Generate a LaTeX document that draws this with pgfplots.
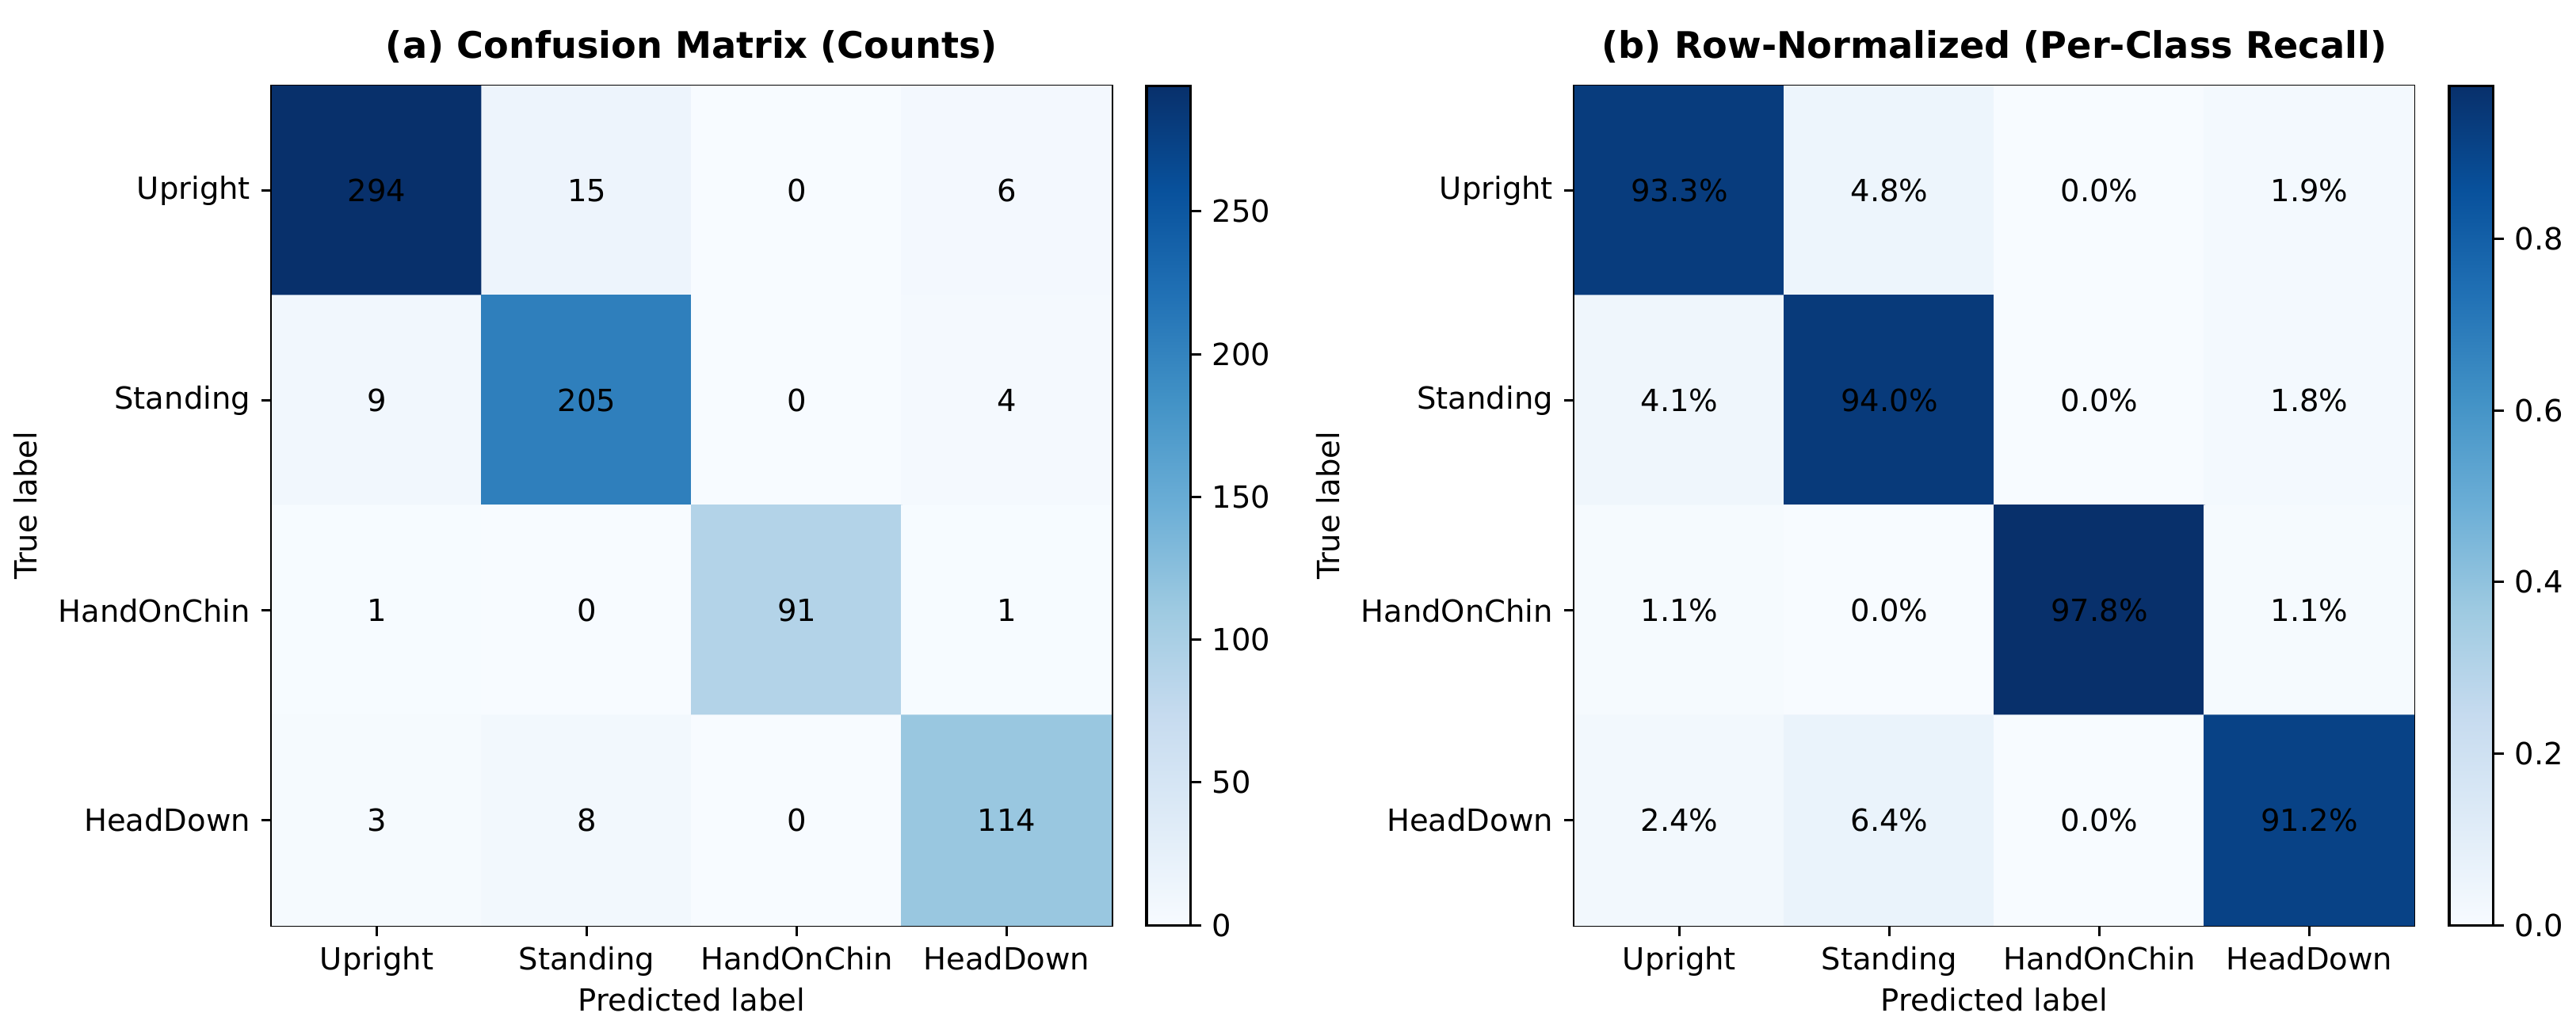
\documentclass[border=0pt]{standalone}
\usepackage{fontspec}
\setmainfont{DejaVu Sans}
\usepackage{pgfplots}
\usepackage{pgfplotstable}
\pgfplotsset{compat=1.18}

% counts, row = true label, col = predicted label
\pgfplotstableread{
x y c
0 0 294
1 0 15
2 0 0
3 0 6
0 1 9
1 1 205
2 1 0
3 1 4
0 2 1
1 2 0
2 2 91
3 2 1
0 3 3
1 3 8
2 3 0
3 3 114
}\counts

% row-normalized (recall), r = fraction, p = percent shown
\pgfplotstableread{
x y r p
0 0 0.9333 93.3
1 0 0.0476 4.8
2 0 0.0 0.0
3 0 0.0190 1.9
0 1 0.0413 4.1
1 1 0.9404 94.0
2 1 0.0 0.0
3 1 0.0183 1.8
0 2 0.0108 1.1
1 2 0.0 0.0
2 2 0.9785 97.8
3 2 0.0108 1.1
0 3 0.0240 2.4
1 3 0.0640 6.4
2 3 0.0 0.0
3 3 0.9120 91.2
}\recall

\pgfplotsset{
  colormap={mplblues}{rgb255=(247,251,255) rgb255=(222,235,247) rgb255=(198,219,239)
    rgb255=(158,202,225) rgb255=(107,174,214) rgb255=(66,146,198) rgb255=(33,113,181)
    rgb255=(8,81,156) rgb255=(8,48,107)},
  cm/.style={
    scale only axis, width=275.3pt, height=275.3pt,
    anchor=south west,
    xmin=-0.5, xmax=3.5, ymin=-0.5, ymax=3.5,
    y dir=reverse,
    xtick={0,1,2,3}, ytick={0,1,2,3},
    xticklabels={Upright,Standing,HandOnChin,HeadDown},
    yticklabels={Upright,Standing,HandOnChin,HeadDown},
    tick align=outside, xtick pos=left, ytick pos=left,
    major tick length=3.5pt,
    every tick/.style={black, line width=0.8pt},
    axis line style={line width=0.8pt},
    xlabel={Predicted label}, ylabel={True label},
    xlabel style={yshift=3pt},
    title style={font=\fontsize{12}{14}\selectfont\bfseries, yshift=-2pt},
    colormap name=mplblues,
    colorbar,
    /pgf/number format/assume math mode=true,
  },
  % the colorbar already sits 0.3cm right of the axis; add the rest
  cb/.style={
    colorbar style={
      at={(parent axis.north east)}, anchor=north west, xshift=2.9pt,
      scale only axis, width=14.5pt, height=275.3pt,
      tick align=outside, ytick pos=right, yticklabel pos=right,
      major tick length=3.5pt,
      every tick/.style={black, line width=0.8pt},
      axis line style={line width=0.8pt},
      /pgf/number format/assume math mode=true,
      #1
    },
  },
}

\begin{document}
\begin{tikzpicture}
\path[use as bounding box] (0,0) rectangle (844.4pt,338.2pt);

\begin{axis}[cm, at={(89.1pt,34.8pt)},
  title={(a) Confusion Matrix (Counts)},
  point meta min=0, point meta max=294,
  cb={ytick={0,50,100,150,200,250}}]
  \addplot[matrix plot*, mesh/cols=4, point meta=explicit] table[x=x, y=y, meta=c] {\counts};
  \addplot[only marks, mark=none, point meta=explicit,
    nodes near coords={\pgfmathprintnumber[int detect]{\pgfplotspointmeta}},
    nodes near coords align=center,
    every node near coord/.append style={font=\normalsize, text=black}]
    table[x=x, y=y, meta=c] {\counts};
\end{axis}

\begin{axis}[cm, at={(516.1pt,34.8pt)},
  title={(b) Row-Normalized (Per-Class Recall)},
  point meta min=0, point meta max=0.9785,
  cb={ytick={0,0.2,0.4,0.6,0.8},
      yticklabel style={/pgf/number format/.cd, fixed, fixed zerofill, precision=1}}]
  \addplot[matrix plot*, mesh/cols=4, point meta=explicit] table[x=x, y=y, meta=r] {\recall};
  \addplot[only marks, mark=none, point meta=explicit,
    nodes near coords={\pgfmathprintnumber[fixed, fixed zerofill, precision=1]{\pgfplotspointmeta}\%},
    nodes near coords align=center,
    every node near coord/.append style={font=\normalsize, text=black}]
    table[x=x, y=y, meta=p] {\recall};
\end{axis}
\end{tikzpicture}
\end{document}
